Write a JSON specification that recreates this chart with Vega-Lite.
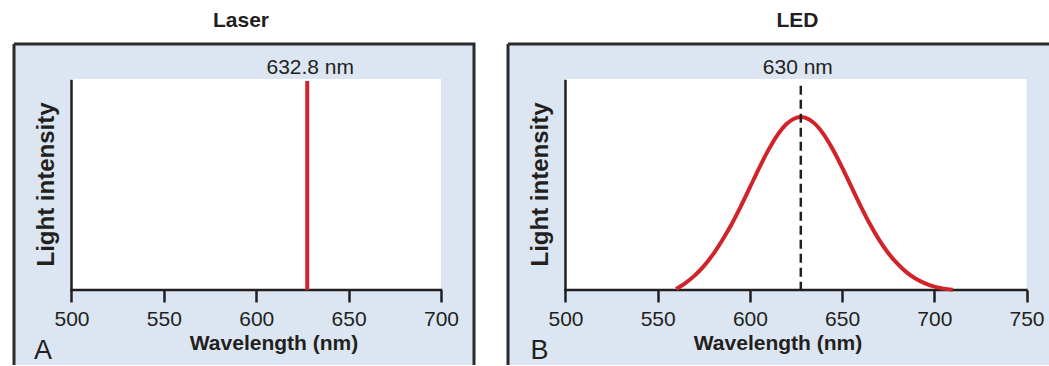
{
  "$schema": "https://vega.github.io/schema/vega-lite/v6.json",
  "padding": {"left": 12, "top": 8, "right": 0, "bottom": 0},
  "background": "white",
  "spacing": 30,
  "config": {
    "font": "Liberation Sans",
    "title": {"fontSize": 21, "fontWeight": "bold", "color": "#231f20", "baseline": "alphabetic", "offset": 13.5},
    "axis": {"zindex": 1, "grid": false}
  },
  "datasets": {
    "laser": [{"wavelength": 627.6, "intensity": 1.208, "label": "632.8 nm"}],
    "ledPeak": [{"wavelength": 627.6, "intensity": 1.18, "label": "630 nm"}],
    "led": [
      {"wavelength": 560, "intensity": 0.006},
      {"wavelength": 565, "intensity": 0.040},
      {"wavelength": 570, "intensity": 0.083},
      {"wavelength": 575, "intensity": 0.138},
      {"wavelength": 580, "intensity": 0.206},
      {"wavelength": 585, "intensity": 0.288},
      {"wavelength": 590, "intensity": 0.379},
      {"wavelength": 595, "intensity": 0.482},
      {"wavelength": 600, "intensity": 0.593},
      {"wavelength": 605, "intensity": 0.7045},
      {"wavelength": 610, "intensity": 0.8086},
      {"wavelength": 615, "intensity": 0.8968},
      {"wavelength": 620, "intensity": 0.9612},
      {"wavelength": 625, "intensity": 0.9954},
      {"wavelength": 627.6, "intensity": 1.0},
      {"wavelength": 630, "intensity": 0.9961},
      {"wavelength": 635, "intensity": 0.9631},
      {"wavelength": 640, "intensity": 0.900},
      {"wavelength": 645, "intensity": 0.8124},
      {"wavelength": 650, "intensity": 0.7089},
      {"wavelength": 655, "intensity": 0.5975},
      {"wavelength": 660, "intensity": 0.4868},
      {"wavelength": 665, "intensity": 0.3831},
      {"wavelength": 670, "intensity": 0.2914},
      {"wavelength": 675, "intensity": 0.2142},
      {"wavelength": 680, "intensity": 0.1521},
      {"wavelength": 685, "intensity": 0.1020},
      {"wavelength": 690, "intensity": 0.0650},
      {"wavelength": 695, "intensity": 0.0380},
      {"wavelength": 700, "intensity": 0.0195},
      {"wavelength": 705, "intensity": 0.0080},
      {"wavelength": 710, "intensity": 0.0020}
    ]
  },
  "hconcat": [
    {
      "title": {"text": "Laser", "dx": -3},
      "width": 460,
      "height": 321,
      "view": {"fill": "#dce6f2", "stroke": "#2b2b2b", "strokeWidth": 3, "strokeDash": [781, 460, 321, 0]},
      "layer": [
        {
          "data": {"values": [{}]},
          "mark": {"type": "rect", "fill": "white"},
          "encoding": {
            "x": {"datum": 500, "type": "quantitative",
              "scale": {"domain": [468.88, 717.86], "nice": false, "zero": false},
              "axis": {"values": [500, 550, 600, 650, 700], "offset": -75, "domain": false, "ticks": true, "tickSize": 12, "tickWidth": 2.5, "tickColor": "#231f20",
                "labelFontSize": 21, "labelColor": "#231f20", "labelPadding": 23, "labelBaseline": "alphabetic", "labelFlush": false, "labelOverlap": false, "format": "d",
                "title": "Wavelength (nm)", "titleFontSize": 21, "titleFontWeight": "bold", "titleColor": "#231f20", "titleX": 259.5, "titleY": 59, "titleBaseline": "alphabetic", "titleAlign": "center"}},
            "x2": {"datum": 700},
            "y": {"datum": 0, "type": "quantitative",
              "scale": {"domain": [-0.4335, 1.422], "nice": false, "zero": false},
              "axis": {"orient": "left", "offset": -57.5, "domain": false, "ticks": false, "labels": false,
                "title": "Light intensity", "titleFontSize": 24, "titleFontWeight": "bold", "titleColor": "#231f20", "titleAngle": 270, "titleX": -25.5, "titleY": 140, "titleAlign": "center", "titleBaseline": "middle"}},
            "y2": {"datum": 1.22}
          }
        },
        {
          "data": {"values": [{}]},
          "mark": {"type": "rule", "color": "#231f20", "strokeWidth": 2.5, "strokeCap": "square"},
          "encoding": {"x": {"datum": 500, "type": "quantitative"}, "x2": {"datum": 700}, "y": {"datum": 0, "type": "quantitative"}}
        },
        {
          "data": {"values": [{}]},
          "mark": {"type": "rule", "color": "#231f20", "strokeWidth": 2.5, "strokeCap": "square"},
          "encoding": {"x": {"datum": 500, "type": "quantitative"}, "y": {"datum": 1.208, "type": "quantitative"}, "y2": {"datum": 0}}
        },
        {
          "data": {"name": "laser"},
          "mark": {"type": "rule", "color": "#d1232a", "strokeWidth": 4},
          "encoding": {"x": {"field": "wavelength", "type": "quantitative"}, "y": {"field": "intensity", "type": "quantitative"}, "y2": {"datum": 0}}
        },
        {
          "data": {"name": "laser"},
          "mark": {"type": "text", "fontSize": 21, "color": "#231f20", "baseline": "alphabetic", "align": "center", "dx": 3},
          "encoding": {"x": {"field": "wavelength", "type": "quantitative"}, "y": {"datum": 1.25, "type": "quantitative"}, "text": {"field": "label", "type": "nominal"}}
        },
        {
          "data": {"values": [{}]},
          "mark": {"type": "text", "fontSize": 27, "color": "#231f20", "baseline": "alphabetic", "align": "center", "text": "A"},
          "encoding": {"x": {"datum": 484.6, "type": "quantitative"}, "y": {"datum": -0.399, "type": "quantitative"}}
        }
      ]
    },
    {
      "title": {"text": "LED", "dx": 19},
      "width": 541,
      "height": 321,
      "view": {"fill": "#dce6f2", "stroke": "#2b2b2b", "strokeWidth": 3, "strokeDash": [541, 862, 321, 0]},
      "layer": [
        {
          "data": {"values": [{}]},
          "mark": {"type": "rect", "fill": "white"},
          "encoding": {
            "x": {"datum": 500, "type": "quantitative",
              "scale": {"domain": [468.82, 762.2], "nice": false, "zero": false},
              "axis": {"values": [500, 550, 600, 650, 700, 750], "offset": -75, "domain": false, "ticks": true, "tickSize": 12, "tickWidth": 2.5, "tickColor": "#231f20",
                "labelFontSize": 21, "labelColor": "#231f20", "labelPadding": 23, "labelBaseline": "alphabetic", "labelFlush": false, "labelOverlap": false, "format": "d",
                "title": "Wavelength (nm)", "titleFontSize": 21, "titleFontWeight": "bold", "titleColor": "#231f20", "titleX": 269.5, "titleY": 59, "titleBaseline": "alphabetic", "titleAlign": "center"}},
            "x2": {"datum": 750},
            "y": {"datum": 0, "type": "quantitative",
              "scale": {"domain": [-0.4335, 1.422], "nice": false, "zero": false},
              "axis": {"orient": "left", "offset": -57.5, "domain": false, "ticks": false, "labels": false,
                "title": "Light intensity", "titleFontSize": 24, "titleFontWeight": "bold", "titleColor": "#231f20", "titleAngle": 270, "titleX": -25.5, "titleY": 140, "titleAlign": "center", "titleBaseline": "middle"}},
            "y2": {"datum": 1.22}
          }
        },
        {
          "data": {"values": [{}]},
          "mark": {"type": "rule", "color": "#231f20", "strokeWidth": 2.5, "strokeCap": "square"},
          "encoding": {"x": {"datum": 500, "type": "quantitative"}, "x2": {"datum": 750}, "y": {"datum": 0, "type": "quantitative"}}
        },
        {
          "data": {"values": [{}]},
          "mark": {"type": "rule", "color": "#231f20", "strokeWidth": 2.5, "strokeCap": "square"},
          "encoding": {"x": {"datum": 500, "type": "quantitative"}, "y": {"datum": 1.208, "type": "quantitative"}, "y2": {"datum": 0}}
        },
        {
          "data": {"name": "led"},
          "mark": {"type": "line", "color": "#d1232a", "strokeWidth": 4, "interpolate": "monotone"},
          "encoding": {"x": {"field": "wavelength", "type": "quantitative"}, "y": {"field": "intensity", "type": "quantitative"}}
        },
        {
          "data": {"name": "ledPeak"},
          "mark": {"type": "rule", "color": "#231f20", "strokeWidth": 2.5, "strokeDash": [9, 5]},
          "encoding": {"x": {"field": "wavelength", "type": "quantitative"}, "y": {"field": "intensity", "type": "quantitative"}, "y2": {"datum": 0}}
        },
        {
          "data": {"name": "ledPeak"},
          "mark": {"type": "text", "fontSize": 21, "color": "#231f20", "baseline": "alphabetic", "align": "center", "dx": -3},
          "encoding": {"x": {"field": "wavelength", "type": "quantitative"}, "y": {"datum": 1.25, "type": "quantitative"}, "text": {"field": "label", "type": "nominal"}}
        },
        {
          "data": {"values": [{}]},
          "mark": {"type": "text", "fontSize": 27, "color": "#231f20", "baseline": "alphabetic", "align": "center", "text": "B"},
          "encoding": {"x": {"datum": 485.9, "type": "quantitative"}, "y": {"datum": -0.399, "type": "quantitative"}}
        }
      ]
    }
  ]
}
